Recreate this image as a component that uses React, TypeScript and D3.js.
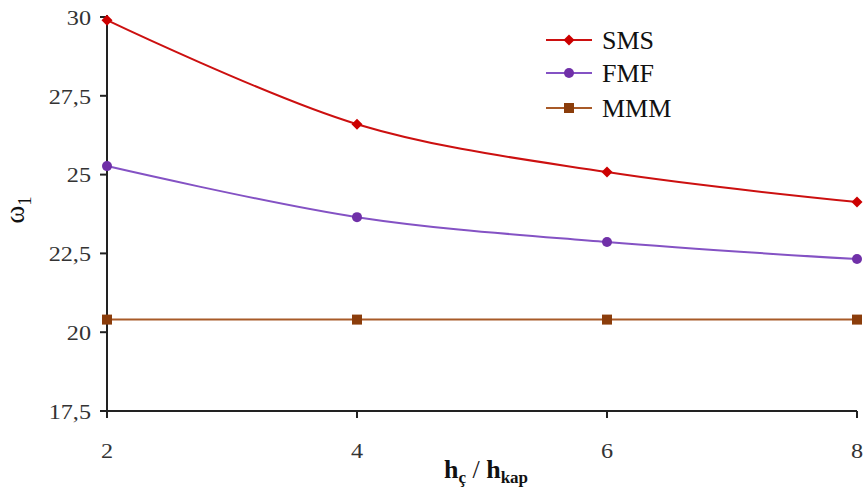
import React from "react";
import * as d3 from "d3";

const xValues = [2, 4, 6, 8];
const smsValues = [29.9, 26.6, 25.08, 24.13];
const fmfValues = [25.27, 23.65, 22.86, 22.32];
const mmmValues = [20.4, 20.4, 20.4, 20.4];
const yTicks = [17.5, 20, 22.5, 25, 27.5, 30];
const xTicks = [2, 4, 6, 8];
const seriesNames = ["SMS", "FMF", "MMM"];

const W = 863;
const H = 500;
const left = 107;
const right = 857;
const top = 17;
const bottom = 411;

const fmtTick = (v: number) => String(v).replace(".", ",");
const FONT = "'Liberation Serif', 'DejaVu Serif', 'Times New Roman', serif";

export default function App() {
  const x = d3.scaleLinear().domain([2, 8]).range([left, right]);
  const y = d3.scaleLinear().domain([17.5, 30]).range([bottom, top]);
  const line = d3
    .line<[number, number]>()
    .x((d) => x(d[0]))
    .y((d) => y(d[1]))
    .curve(d3.curveCatmullRom.alpha(0.5));

  const series = [
    { name: seriesNames[0], values: smsValues, line: "#cc1010", mark: "#cc0000", shape: "diamond" },
    { name: seriesNames[1], values: fmfValues, line: "#8452c4", mark: "#7030a8", shape: "circle" },
    { name: seriesNames[2], values: mmmValues, line: "#a85a28", mark: "#8b3d0b", shape: "square" },
  ];

  const marker = (shape: string, cx: number, cy: number, color: string, key: string) => {
    if (shape === "diamond")
      return (
        <path key={key} d={`M${cx},${cy - 5.5}L${cx + 5.5},${cy}L${cx},${cy + 5.5}L${cx - 5.5},${cy}Z`} fill={color} />
      );
    if (shape === "circle") return <circle key={key} cx={cx} cy={cy} r={5} fill={color} />;
    return <rect key={key} x={cx - 5} y={cy - 5} width={10} height={10} fill={color} />;
  };

  const legendY = [40, 73, 108];

  return (
    <svg
      width={W}
      height={H}
      style={{ position: "absolute", left: 0, top: 0, background: "#fff", fontFamily: FONT }}
    >
      <rect x={0} y={0} width={W} height={H} fill="#fff" />
      {/* axes */}
      <line x1={left} y1={top - 2} x2={left} y2={bottom + 7} stroke="#222" strokeWidth={2} />
      <line x1={left} y1={bottom} x2={right} y2={bottom} stroke="#222" strokeWidth={2} />
      {yTicks.map((t) => (
        <g key={"y" + t}>
          <line x1={left - 7} x2={left} y1={y(t)} y2={y(t)} stroke="#222" strokeWidth={2} />
          <text
            transform={`translate(91,${y(t)}) scale(1.1,1)`}
            dy="0.35em"
            textAnchor="end"
            fontSize={22}
            fill="#333"
            style={{ fontFamily: FONT }}
          >
            {fmtTick(t)}
          </text>
        </g>
      ))}
      {xTicks.map((t) => (
        <g key={"x" + t}>
          <line x1={x(t)} x2={x(t)} y1={bottom} y2={bottom + 7} stroke="#222" strokeWidth={2} />
          <text
            transform={`translate(${x(t)},458) scale(1.1,1)`}
            textAnchor="middle"
            fontSize={22}
            fill="#333"
            style={{ fontFamily: FONT }}
          >
            {t}
          </text>
        </g>
      ))}
      {/* series */}
      {series.map((s) => {
        const pts = xValues.map((xv, i) => [xv, s.values[i]] as [number, number]);
        return (
          <g key={s.name}>
            <path d={line(pts) || ""} fill="none" stroke={s.line} strokeWidth={2} />
            {pts.map((p, i) => marker(s.shape, x(p[0]), y(p[1]), s.mark, s.name + i))}
          </g>
        );
      })}
      {/* legend */}
      {series.map((s, i) => (
        <g key={"lg" + s.name}>
          <line x1={546} x2={592} y1={legendY[i]} y2={legendY[i]} stroke={s.line} strokeWidth={2} />
          {marker(s.shape, 569, legendY[i], s.mark, "lm" + i)}
          <text x={602} y={legendY[i]} dy="0.35em" fontSize={26} fill="#111" style={{ fontFamily: FONT }}>
            {s.name}
          </text>
        </g>
      ))}
      {/* y label */}
      <text transform="translate(24,210) rotate(-90)" textAnchor="middle" fontSize={27} fill="#111" style={{ fontFamily: FONT }}>
        ω<tspan fontSize={18} dy={7}>1</tspan>
      </text>
      {/* x label */}
      <text x={486} y={478} textAnchor="middle" fontSize={26} fontWeight="bold" fill="#111" style={{ fontFamily: FONT }}>
        h<tspan fontSize={17} dy={5}>ç</tspan>
        <tspan dy={-5} fontWeight="normal"> / </tspan>h<tspan fontSize={17} dy={5}>kap</tspan>
      </text>
    </svg>
  );
}
